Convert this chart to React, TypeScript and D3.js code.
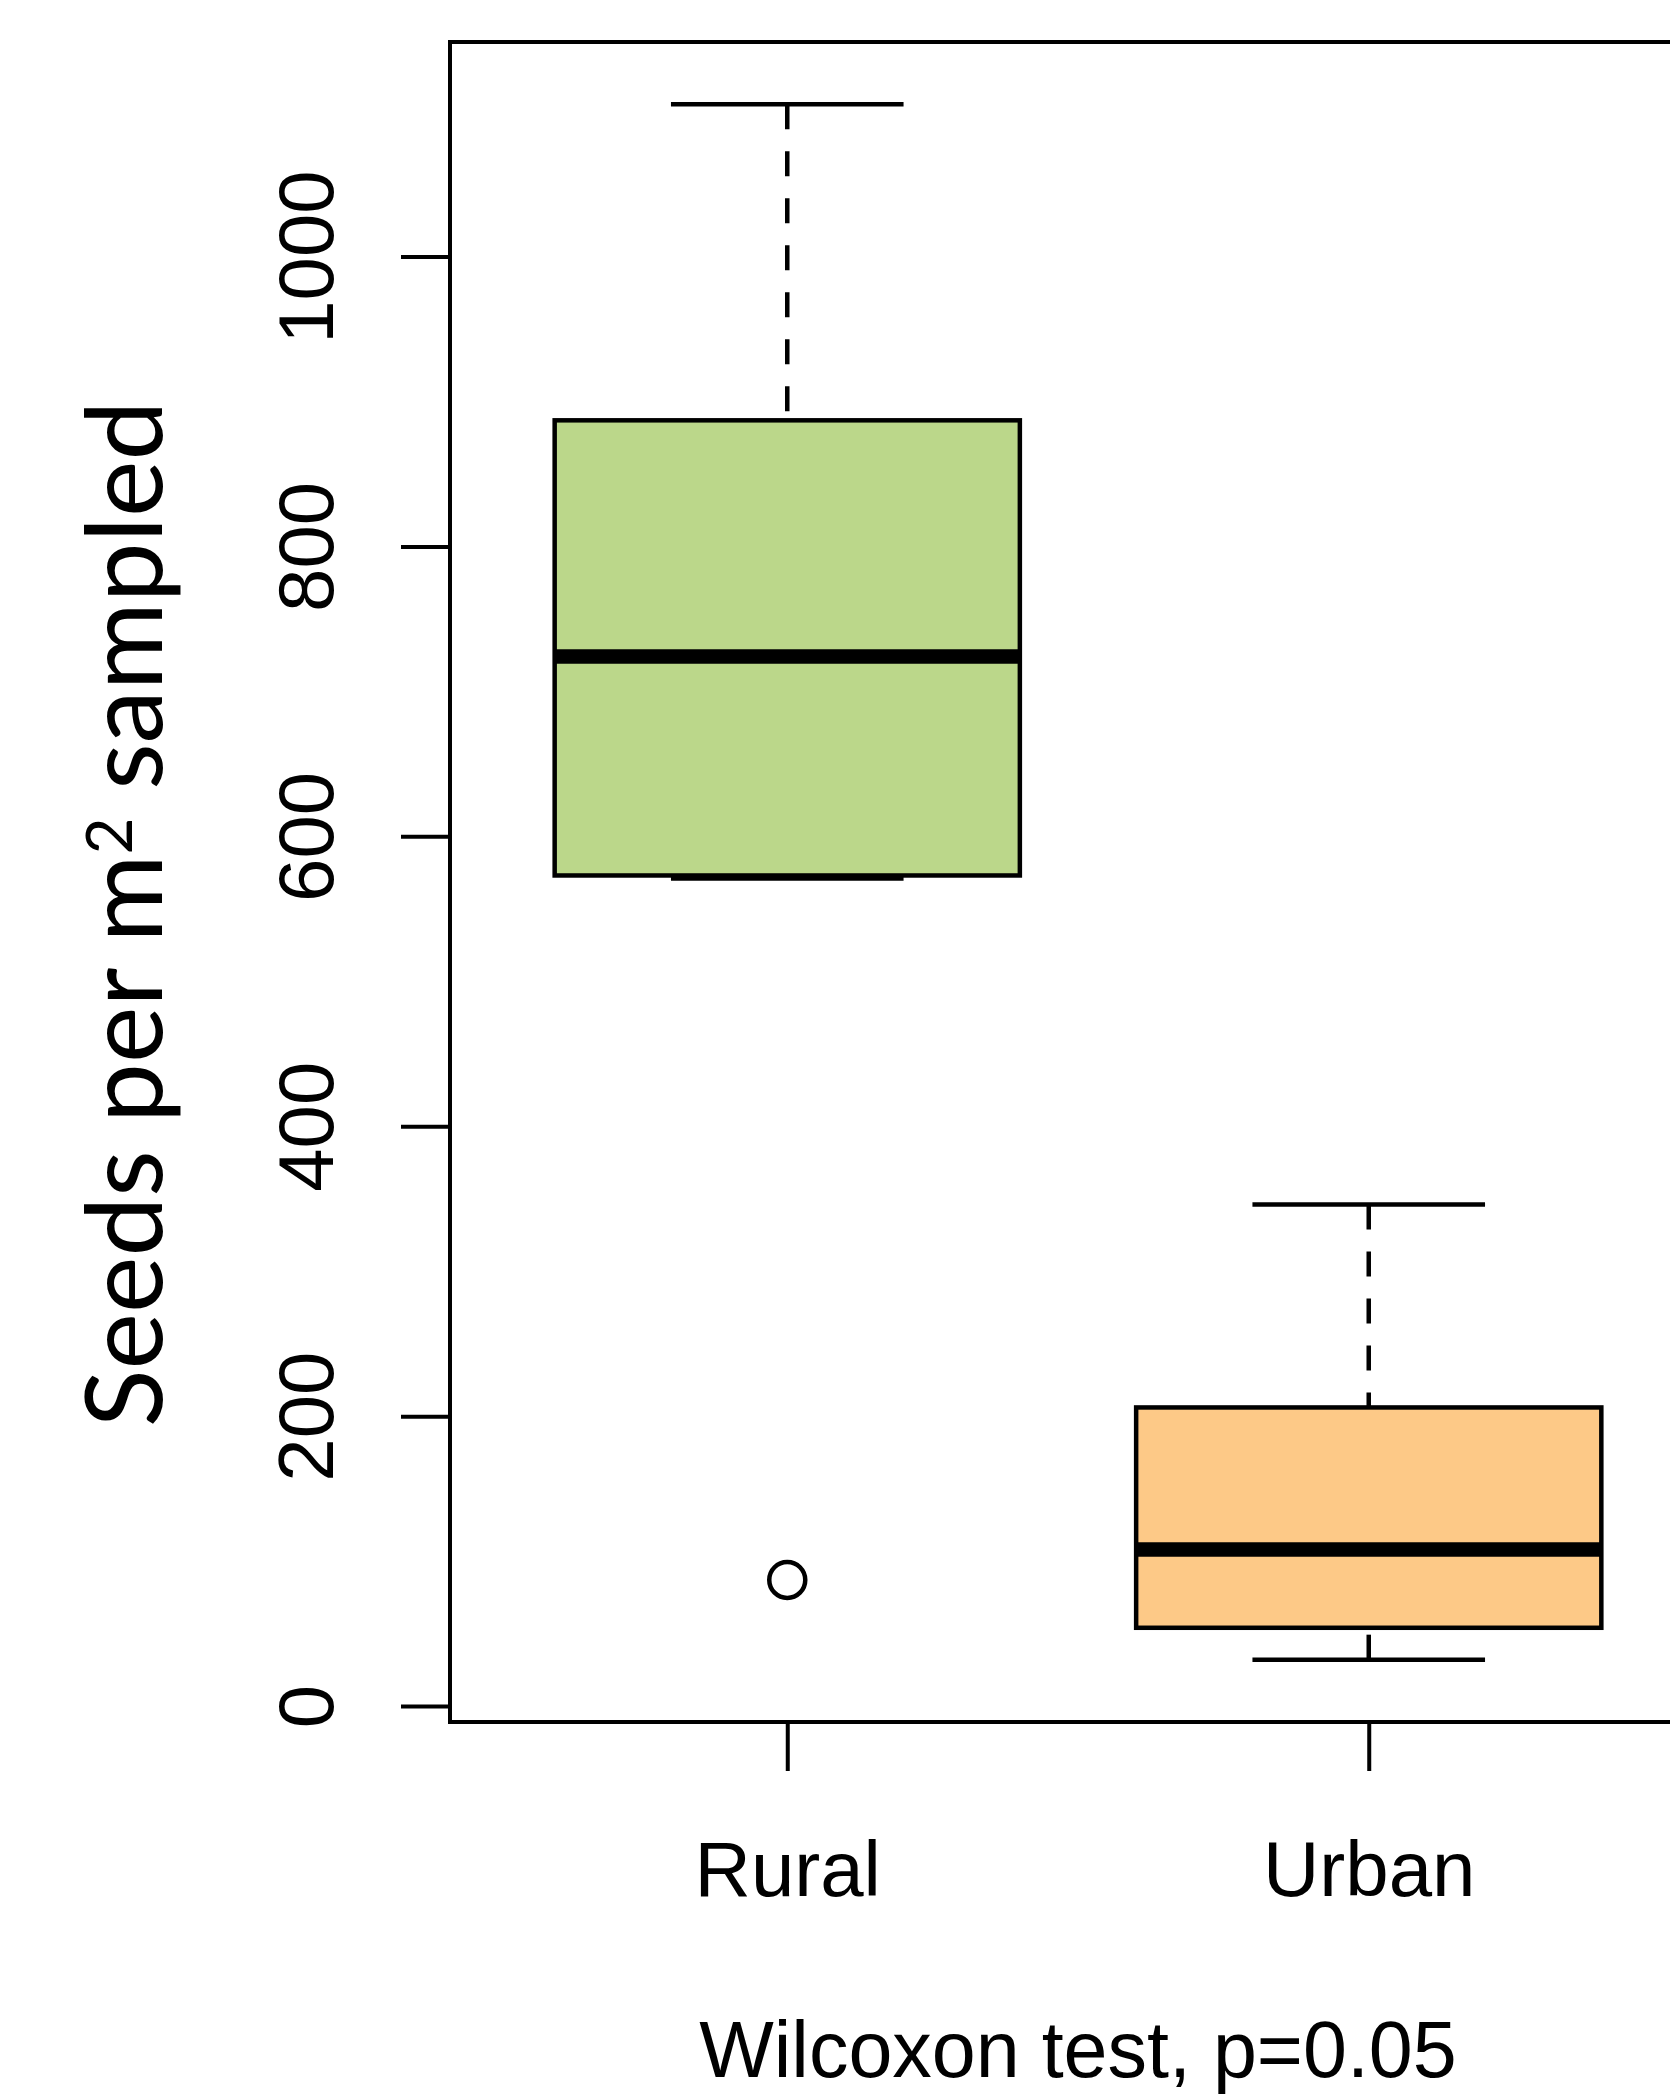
import React, { useEffect, useRef } from 'react';
import * as d3 from 'd3';

// box statistics per group
const groups = ['Rural', 'Urban'];
const lowerWhisker = [571, 32];
const q1 = [573, 54];
const median = [724, 108];
const q3 = [887, 206];
const upperWhisker = [1105, 346];
const outlierGroup = ['Rural'];
const outlierValue = [87];
const fills = ['#bbd78a', '#fdc987'];
const yTicks = [0, 200, 400, 600, 800, 1000];

const W = 1670;
const H = 2097;
const numFont = "'Liberation Sans', Arial, Helvetica, sans-serif";

const App: React.FC = () => {
  const svgRef = useRef<SVGSVGElement>(null);

  useEffect(() => {
    if (!svgRef.current) return;
    const svg = d3.select(svgRef.current);
    svg.selectAll('*').remove();

    const left = 450;
    const right = 1706; // plot box runs past the right edge of the picture
    const top = 42;
    const bottom = 1722;

    // R style: xlim = [0.5, 2.5] widened by 4%
    const x = d3.scaleLinear().domain([0.42, 2.58]).range([left, right]);
    const y = d3.scaleLinear().domain([-11, 1148]).range([bottom, top]);
    const unit = x(1) - x(0);

    svg.append('rect').attr('width', W).attr('height', H).attr('fill', 'white');

    const g = svg.append('g');
    const lw = 4.5;

    groups.forEach((name, i) => {
      const cx = x(i + 1);
      const bw = unit * 0.8;
      const sw = unit * 0.4;

      // dashed whiskers
      g.append('line')
        .attr('x1', cx).attr('x2', cx)
        .attr('y1', y(upperWhisker[i])).attr('y2', y(q3[i]))
        .attr('stroke', 'black').attr('stroke-width', lw)
        .attr('stroke-dasharray', '25,22');
      g.append('line')
        .attr('x1', cx).attr('x2', cx)
        .attr('y1', y(lowerWhisker[i])).attr('y2', y(q1[i]))
        .attr('stroke', 'black').attr('stroke-width', lw)
        .attr('stroke-dasharray', '25,22');

      // staples
      [upperWhisker[i], lowerWhisker[i]].forEach((v) => {
        g.append('line')
          .attr('x1', cx - sw / 2).attr('x2', cx + sw / 2)
          .attr('y1', y(v)).attr('y2', y(v))
          .attr('stroke', 'black').attr('stroke-width', lw);
      });

      // box
      g.append('rect')
        .attr('x', cx - bw / 2)
        .attr('y', y(q3[i]))
        .attr('width', bw)
        .attr('height', y(q1[i]) - y(q3[i]))
        .attr('fill', fills[i])
        .attr('stroke', 'black')
        .attr('stroke-width', lw);

      // median
      g.append('line')
        .attr('x1', cx - bw / 2).attr('x2', cx + bw / 2)
        .attr('y1', y(median[i])).attr('y2', y(median[i]))
        .attr('stroke', 'black').attr('stroke-width', 14.5);
    });

    // outliers
    outlierValue.forEach((v, k) => {
      const i = groups.indexOf(outlierGroup[k]);
      g.append('circle')
        .attr('cx', x(i + 1)).attr('cy', y(v)).attr('r', 18)
        .attr('fill', 'none').attr('stroke', 'black').attr('stroke-width', lw);
    });

    // plot frame
    svg.append('rect')
      .attr('x', left).attr('y', top)
      .attr('width', right - left).attr('height', bottom - top)
      .attr('fill', 'none').attr('stroke', 'black').attr('stroke-width', 4);

    // y axis
    const yAxis = svg.append('g')
      .attr('transform', `translate(${left},0)`)
      .call(d3.axisLeft(y).tickValues(yTicks).tickSize(49).tickFormat(d3.format('d')));
    yAxis.select('.domain').remove();
    yAxis.selectAll('line').attr('stroke', 'black').attr('stroke-width', 4);
    yAxis.selectAll('text')
      .attr('transform', 'rotate(-90)')
      .attr('x', 0)
      .attr('y', -117)
      .attr('dy', 0)
      .attr('text-anchor', 'middle')
      .attr('font-family', numFont)
      .attr('font-size', 78)
      .attr('fill', 'black');

    // x axis
    const xAxis = svg.append('g')
      .attr('transform', `translate(0,${bottom})`)
      .call(
        d3.axisBottom(x)
          .tickValues(groups.map((_, i) => i + 1))
          .tickSize(49)
          .tickFormat((d) => groups[(d as number) - 1])
      );
    xAxis.select('.domain').remove();
    xAxis.selectAll('line').attr('stroke', 'black').attr('stroke-width', 4);
    xAxis.selectAll('text')
      .attr('y', 174)
      .attr('dy', 0)
      .attr('font-family', numFont)
      .attr('font-size', 78)
      .attr('fill', 'black');

    // x title
    svg.append('text')
      .attr('x', (left + right) / 2)
      .attr('y', 2077)
      .attr('text-anchor', 'middle')
      .attr('font-family', numFont)
      .attr('font-size', 79)
      .text('Wilcoxon test, p=0.05');

    // y title
    const yt = svg.append('text')
      .attr('transform', 'translate(162,914) rotate(-90)')
      .attr('text-anchor', 'middle')
      .attr('font-family', "Lato, 'Noto Sans', sans-serif")
      .attr('font-size', 107)
      .attr('fill', 'black');
    yt.append('tspan').text('Seeds per m');
    yt.append('tspan').attr('font-size', 64).attr('dy', -30).text('2');
    yt.append('tspan').attr('dy', 30).text(' sampled');
  }, []);

  return (
    <svg
      ref={svgRef}
      width={W}
      height={H}
      style={{ position: 'absolute', left: 0, top: 0, display: 'block' }}
    />
  );
};

export default App;
